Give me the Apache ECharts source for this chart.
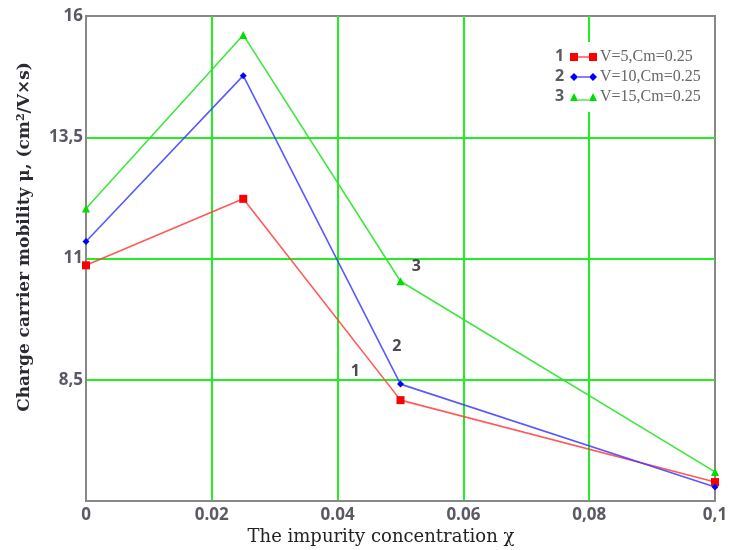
<!DOCTYPE html>
<html><head><meta charset="utf-8">
<script src="https://cdn.jsdelivr.net/npm/echarts@6/dist/echarts.min.js"></script>
<style>html,body{margin:0;padding:0;background:#fff}#c{width:735px;height:550px}</style>
</head><body><div id="c"></div>
<script>
const xValues = [0, 0.025, 0.05, 0.1];
const seriesNames = ['V=5,Cm=0.25', 'V=10,Cm=0.25', 'V=15,Cm=0.25'];
const red = [10.86, 12.23, 8.08, 6.39];
const blue = [11.35, 14.77, 8.41, 6.29];
const green = [12.03, 15.61, 10.53, 6.60];
const xTickLabels = {'0':'0','0.02':'0.02','0.04':'0.04','0.06':'0.06','0.08':'0,08','0.1':'0,1'};
const yTickLabels = {'8.5':'8,5','11':'11','13.5':'13,5','16':'16'};
const curveLabels = [['1', 0.0428, 8.67], ['2', 0.0494, 9.19], ['3', 0.0525, 10.84]];

const chart = echarts.init(document.getElementById('c'));
const colors = ['#ff0000', '#0000ff', '#00dd00'];
const lineColors = ['rgba(255,60,60,0.85)', 'rgba(60,60,255,0.85)', 'rgba(40,230,40,0.9)'];
const symbols = ['rect', 'diamond', 'triangle'];
const icons = [
  'path://M0,0L8,0L8,8L0,8ZM8,3.5L19,3.5L19,4.5L8,4.5ZM19,0L27,0L27,8L19,8Z',
  'path://M4,0L8,4L4,8L0,4ZM8,3.5L19,3.5L19,4.5L8,4.5ZM23,0L27,4L23,8L19,4Z',
  'path://M4,0L8,8L0,8ZM8,6.5L19,6.5L19,7.5L8,7.5ZM23,0L27,8L19,8Z'
];
const dataSets = [red, blue, green];
const series = dataSets.map((d, i) => ({
  name: seriesNames[i],
  type: 'line',
  data: d.map((v, j) => [xValues[j], v]),
  symbol: symbols[i],
  symbolSize: i === 1 ? 7 : 8,
  showAllSymbol: true,
  lineStyle: {color: lineColors[i], width: 1.6},
  itemStyle: {color: colors[i]},
  z: 3 + i,
  animation: false,
  markPoint: {
    symbol: 'circle', symbolSize: 1, itemStyle: {color: 'rgba(0,0,0,0)'},
    label: {show: true, position: 'inside', color: '#4a4a50', fontSize: 16, fontFamily: 'Open Sans', fontWeight: 'bold',
      formatter: p => p.name},
    data: [{name: curveLabels[i][0], coord: [curveLabels[i][1], curveLabels[i][2]]}]
  }
}));

chart.setOption({
  animation: false,
  grid: {left: 86, right: 20, top: 16, bottom: 49, show: true, borderColor: '#888', borderWidth: 2, backgroundColor: '#fff'},
  xAxis: {
    type: 'value', min: 0, max: 0.1, interval: 0.02,
    axisLine: {show: true, lineStyle: {color: '#888', width: 2}},
    axisTick: {show: false},
    splitLine: {show: true, showMinLine: false, showMaxLine: false, lineStyle: {color: '#22ee22', width: 2}},
    axisLabel: {color: '#5a5a64', fontSize: 17, fontFamily: 'Open Sans', fontWeight: 'bold', margin: 6,
      formatter: v => xTickLabels[String(+v.toFixed(2))] ?? ''}
  },
  yAxis: {
    type: 'value', min: 6, max: 16, interval: 2.5,
    axisLine: {show: true, lineStyle: {color: '#888', width: 2}},
    axisTick: {show: false},
    splitLine: {show: true, showMinLine: false, showMaxLine: false, lineStyle: {color: '#22ee22', width: 2}},
    axisLabel: {color: '#5a5a64', fontSize: 17, fontFamily: 'Open Sans', fontWeight: 'bold', margin: 3,
      formatter: v => yTickLabels[String(v)] ?? ''}
  },
  legend: {
    orient: 'vertical', left: 545, top: 42, itemGap: 2, itemWidth: 27, itemHeight: 8,
    backgroundColor: '#fff', padding: [6, 4, 6, 25],
    textStyle: {fontFamily: 'Liberation Serif', fontSize: 16, color: '#666', lineHeight: 18, padding: [0,0,0,-2]},
    data: seriesNames.map((n, i) => ({name: n, icon: icons[i], itemStyle: {color: colors[i]}}))
  },
  graphic: [
    {type: 'text', left: 555, top: 48, z: 100, style: {text: '1', font: 'bold 16px Open Sans', fill: '#5a5a64'}},
    {type: 'text', left: 555, top: 68, z: 100, style: {text: '2', font: 'bold 16px Open Sans', fill: '#5a5a64'}},
    {type: 'text', left: 555, top: 88, z: 100, style: {text: '3', font: 'bold 16px Open Sans', fill: '#5a5a64'}},
    {type: 'text', x: 25, y: 237, rotation: Math.PI / 2,
      style: {
        text: '{a|Charge carrier mobility μ, (cm}{s|2}{a|/V×s)}',
        align: 'center', verticalAlign: 'middle',
        rich: {
          a: {font: 'bold 17px DejaVu Serif', fill: '#2a2a33'},
          s: {font: 'bold 11px DejaVu Serif', fill: '#2a2a33', verticalAlign: 'top', padding: [0,0,8,0]}
        }
      }},
    {type: 'text', x: 381, y: 537,
      style: {text: 'The impurity concentration χ', align: 'center', verticalAlign: 'middle',
        font: '18px DejaVu Serif', fill: '#222'}}
  ],
  series: series
});
</script></body></html>
